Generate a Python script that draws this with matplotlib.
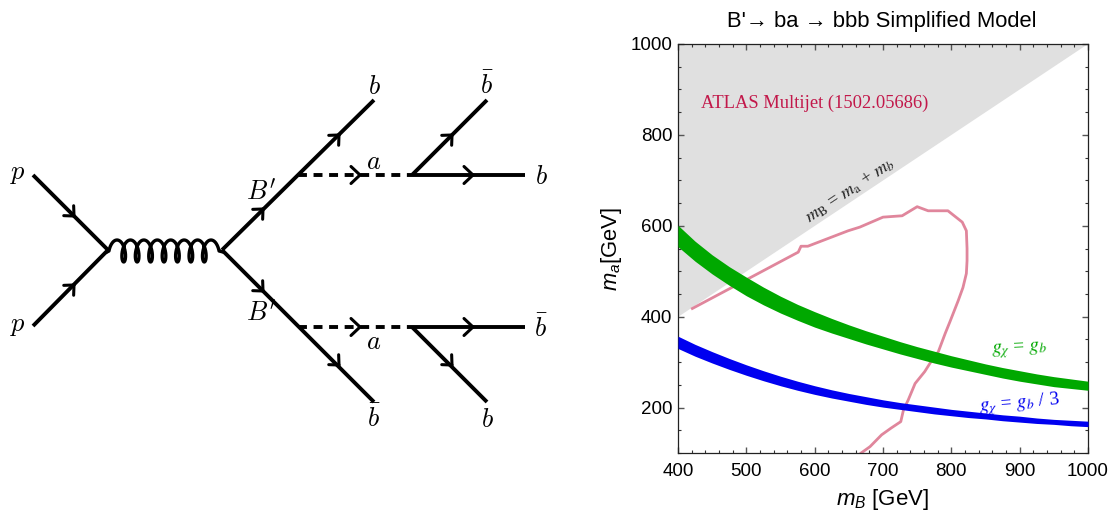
import matplotlib
matplotlib.use('Agg')
import matplotlib.pyplot as plt
import numpy as np

# contour and bands, (mB, ma) in GeV
band_x = [400, 425, 450, 475, 500, 525, 550, 575, 600, 625, 650, 675, 700,
          725, 750, 775, 800, 825, 850, 875, 900, 925, 950, 975, 1000]
green_top = [601, 566, 536, 510, 487, 465, 445, 427, 411, 396, 382, 369, 357,
             345, 334, 324, 314, 305, 296, 288, 281, 274, 268, 263, 258]
green_low = [554, 522, 494, 469, 446, 426, 408, 392, 377, 364, 352, 340, 329,
             318, 308, 298, 289, 281, 273, 265, 258, 252, 246, 242, 238]
blue_top = [357, 339, 323, 308, 294, 281, 269, 258, 248, 239, 231, 224, 217,
            211, 206, 201, 196, 192, 188, 184, 181, 177, 174, 172, 170]
blue_low = [330, 313, 298, 284, 271, 259, 248, 238, 229, 221, 214, 207, 201,
            196, 191, 186, 182, 178, 175, 171, 168, 165, 163, 160, 158]

atlas_x = [421, 576, 580, 590, 649, 666, 700, 728, 750, 766, 795, 816, 822, 823, 823,
           822, 817, 810, 798, 791, 781, 769, 761, 747, 737, 730, 726, 712, 698, 681, 668]
atlas_y = [418, 542, 555, 555, 589, 597, 619, 622, 642, 633, 633, 608, 589, 550, 523,
           495, 464, 435, 389, 363, 323, 298, 279, 253, 217, 195, 169, 155, 140, 114, 100]

excluded_x = [400, 400, 1000]
excluded_y = [400, 1000, 1000]

x_ticks = [400, 500, 600, 700, 800, 900, 1000]
y_ticks = [200, 400, 600, 800, 1000]

# Feynman diagram, in image pixels: (x0, y0, x1, y1)
fermions = [(33, 175, 108, 250), (33, 326, 108, 250),
            (222, 250, 374, 100), (222, 250, 374, 402),
            (412, 175, 487, 100), (412, 175, 525, 175),
            (412, 327, 525, 327), (412, 327, 487, 402)]
scalars = [(299, 175, 412, 175), (299, 327, 412, 327)]
# tip x, tip y, direction x, direction y
arrows = [(74, 216, 1, 1), (74, 285, 1, -1), (263, 209, 1, -1), (263, 291, 1, 1),
          (339, 135, 1, -1), (339, 365, 1, 1), (360, 175, 1, 0), (360, 327, 1, 0),
          (452, 135, 1, -1), (452, 365, 1, 1), (473, 175, 1, 0), (473, 327, 1, 0)]
diagram_labels = [(18, 174, 'p'), (18, 326, 'p'), (261, 192, "B'"), (261, 313, "B'"),
                  (374, 87, 'b'), (487, 85, r'\bar{b}'), (374, 162, 'a'), (374, 342, 'a'),
                  (541, 177, 'b'), (541, 328, r'\bar{b}'), (374, 418, r'\bar{b}'), (487, 420, 'b')]

plt.rcParams['font.family'] = ['Liberation Sans', 'DejaVu Sans']
plt.rcParams['mathtext.fontset'] = 'custom'
plt.rcParams['mathtext.rm'] = 'Liberation Sans'
plt.rcParams['mathtext.it'] = 'Liberation Sans:italic'

W, H = 1112, 513
fig = plt.figure(figsize=(W / 100, H / 100), dpi=100)

# diagram layer, uses image pixels
fd = fig.add_axes([0, 0, 1, 1])
fd.set_xlim(0, W)
fd.set_ylim(H, 0)
fd.axis('off')

for x0, y0, x1, y1 in fermions:
    fd.plot([x0, x1], [y0, y1], color='black', lw=2.8, solid_capstyle='butt')
for x0, y0, x1, y1 in scalars:
    fd.plot([x0, x1], [y0, y1], color='black', lw=2.8, linestyle=(0.26, (2.3, 1.7)))

for x, y, dx, dy in arrows:
    n = np.hypot(dx, dy)
    ux, uy = dx / n, dy / n
    back, wide = (9, 8.5) if dy == 0 else (7.5, 7)
    for side in (-1, 1):
        bx = x - back * ux - side * wide * uy
        by = y - back * uy + side * wide * ux
        fd.plot([bx, x], [by, y], color='black', lw=2.2, solid_capstyle='round')

# gluon coil
t = np.linspace(-np.pi / 2, 14 * np.pi + np.pi / 2, 900)
gx = 117 + 13.43 * t / (2 * np.pi) + 4.7 * np.sin(t)
gy = 251 - 11 * np.cos(t)
fd.plot(np.r_[107, gx, 223], np.r_[252, gy, 252], color='black', lw=2.4)

for x, y, s in diagram_labels:
    fd.text(x, y, '$' + s + '$', fontsize=19, ha='center', va='center', math_fontfamily='cm')

# limit plot
ax = fig.add_axes([678 / W, 1 - 453 / H, 410 / W, 409 / H])
ax.set_xlim(400, 1000)
ax.set_ylim(100, 1000)
ax.patch.set_alpha(0)

ax.fill(excluded_x, excluded_y, color='#e0e0e0', lw=0, zorder=1)
ax.plot(atlas_x, atlas_y, color='#e0869c', lw=2.0, zorder=2)
ax.fill_between(band_x, green_low, green_top, color='#00a800', lw=0, zorder=3)
ax.fill_between(band_x, blue_low, blue_top, color='#0000f0', lw=0, zorder=3)

ax.set_xticks(x_ticks)
ax.set_yticks(y_ticks)
ax.set_xticks(np.arange(400, 1001, 20), minor=True)
ax.set_yticks(np.arange(100, 1001, 50), minor=True)
ax.tick_params(which='major', direction='in', top=True, right=True, length=4.5, width=1.0,
               color='#555555', labelsize=13.5)
ax.tick_params(axis='x', which='major', pad=7)
ax.tick_params(axis='y', which='major', pad=4)
ax.tick_params(which='minor', direction='in', top=True, right=True, length=2.5, width=0.8,
               color='#333333')
for s in ax.spines.values():
    s.set_linewidth(0.9)
    s.set_color('#222222')

ax.text(433, 870, 'ATLAS Multijet (1502.05686)', family='Liberation Serif', fontsize=13.3,
        color='#c2184a', va='center')
ax.text(652, 677, r'$m_{\mathrm{B}}$ = $m_{\mathrm{a}}$ + $m_b$', fontsize=13.3, color='#222222',
        rotation=33.7, ha='center', va='center', math_fontfamily='stix', family='Liberation Serif')
ax.text(899, 327, r'$g_\chi$ = $g_b$', fontsize=14, color='#00a800', rotation=3,
        ha='center', va='center', math_fontfamily='stix', family='Liberation Serif')
ax.text(899, 207, r'$g_\chi$ = $g_b$ / 3', fontsize=14, color='#0000f0', rotation=5,
        ha='center', va='center', math_fontfamily='stix', family='Liberation Serif')

fig.text(882 / W, 1 - 21 / H, "B'\u2192 ba \u2192 bbb Simplified Model", fontsize=15.8,
         ha='center', va='center')
fig.text(883 / W, 1 - 500 / H, r'$m_B$ [GeV]', fontsize=16, ha='center', va='center')
fig.text(612 / W, 1 - 249 / H, r'$m_a$[GeV]', fontsize=15.8, rotation=90, ha='center', va='center')

fig.savefig('out.png', dpi=100)
